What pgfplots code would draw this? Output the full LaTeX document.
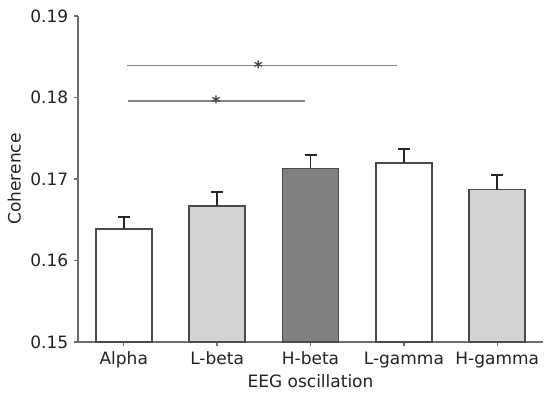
\documentclass[border=0pt]{standalone}
\usepackage{pgfplots}
\pgfplotsset{compat=1.18}
\usepackage{fontspec}
\setmainfont{DejaVu Sans}
\definecolor{txt}{HTML}{222222}
\definecolor{spine}{HTML}{6E6E6E}
\definecolor{edge}{HTML}{4A4A4A}
\definecolor{lgray}{HTML}{D3D3D3}
\definecolor{dgray}{HTML}{808080}
\definecolor{sig}{HTML}{858585}
\begin{document}
\fontsize{17bp}{20bp}\selectfont
\begin{tikzpicture}
\begin{axis}[
  name=ax,
  scale only axis, width=465bp, height=326bp,
  xmin=-0.49, xmax=4.49, ymin=0.15, ymax=0.19,
  axis x line*=bottom, axis y line*=left,
  axis line style={spine, line width=1.8pt},
  xtick={0,1,2,3,4},
  xticklabels={Alpha,L-beta,H-beta,L-gamma,H-gamma},
  ytick={0.15,0.16,0.17,0.18,0.19},
  /pgf/number format/assume math mode=true,
  yticklabel style={/pgf/number format/fixed,/pgf/number format/fixed zerofill,/pgf/number format/precision=2},
  scaled y ticks=false,
  tick style={spine, line width=1.4pt},
  major tick length=4bp,
  tick align=outside,
  ticklabel style={text=txt, font=\fontsize{17bp}{20bp}\selectfont},
  label style={text=txt, font=\fontsize{17bp}{20bp}\selectfont},
  xlabel={EEG oscillation},
  ylabel={Coherence},
  xlabel style={yshift=5bp},
  ylabel style={yshift=-2bp},
  ybar, bar width=0.6, bar shift=0pt,
  clip=false,
]
\addplot[draw=edge, line width=1.8pt, fill=white,
  error bars/.cd, y dir=plus, y explicit,
  error bar style={black!85, line width=2pt},
  error mark options={rotate=90, mark size=6bp, line width=2pt, black!85}]
  coordinates {(0,0.1639) +- (0,0.0014) (3,0.1720) +- (0,0.0017)};
\addplot[draw=edge, line width=1.8pt, fill=lgray,
  error bars/.cd, y dir=plus, y explicit,
  error bar style={black!85, line width=2pt},
  error mark options={rotate=90, mark size=6bp, line width=2pt, black!85}]
  coordinates {(1,0.1667) +- (0,0.0017) (4,0.1687) +- (0,0.0018)};
\addplot[draw=edge, line width=1.8pt, fill=dgray,
  error bars/.cd, y dir=plus, y explicit,
  error bar style={black!85, line width=2pt},
  error mark options={rotate=90, mark size=6bp, line width=2pt, black!85}]
  coordinates {(2,0.1713) +- (0,0.0017)};
\addplot[sharp plot, sig, line width=1.5pt, forget plot] coordinates {(0.03,0.1839) (2.93,0.1839)};
\addplot[sharp plot, sig, line width=1.5pt, forget plot] coordinates {(0.05,0.1796) (1.94,0.1796)};
\node[text=black!75, font=\fontsize{17bp}{20bp}\selectfont\bfseries] at (axis cs:1.44,0.1837) {*};
\node[text=black!75, font=\fontsize{17bp}{20bp}\selectfont\bfseries] at (axis cs:0.99,0.1794) {*};
\end{axis}
\pgfresetboundingbox
\path[use as bounding box] ([xshift=-78bp,yshift=-52bp]ax.south west) rectangle ([xshift=7bp,yshift=16bp]ax.north east);
\end{tikzpicture}
\end{document}
